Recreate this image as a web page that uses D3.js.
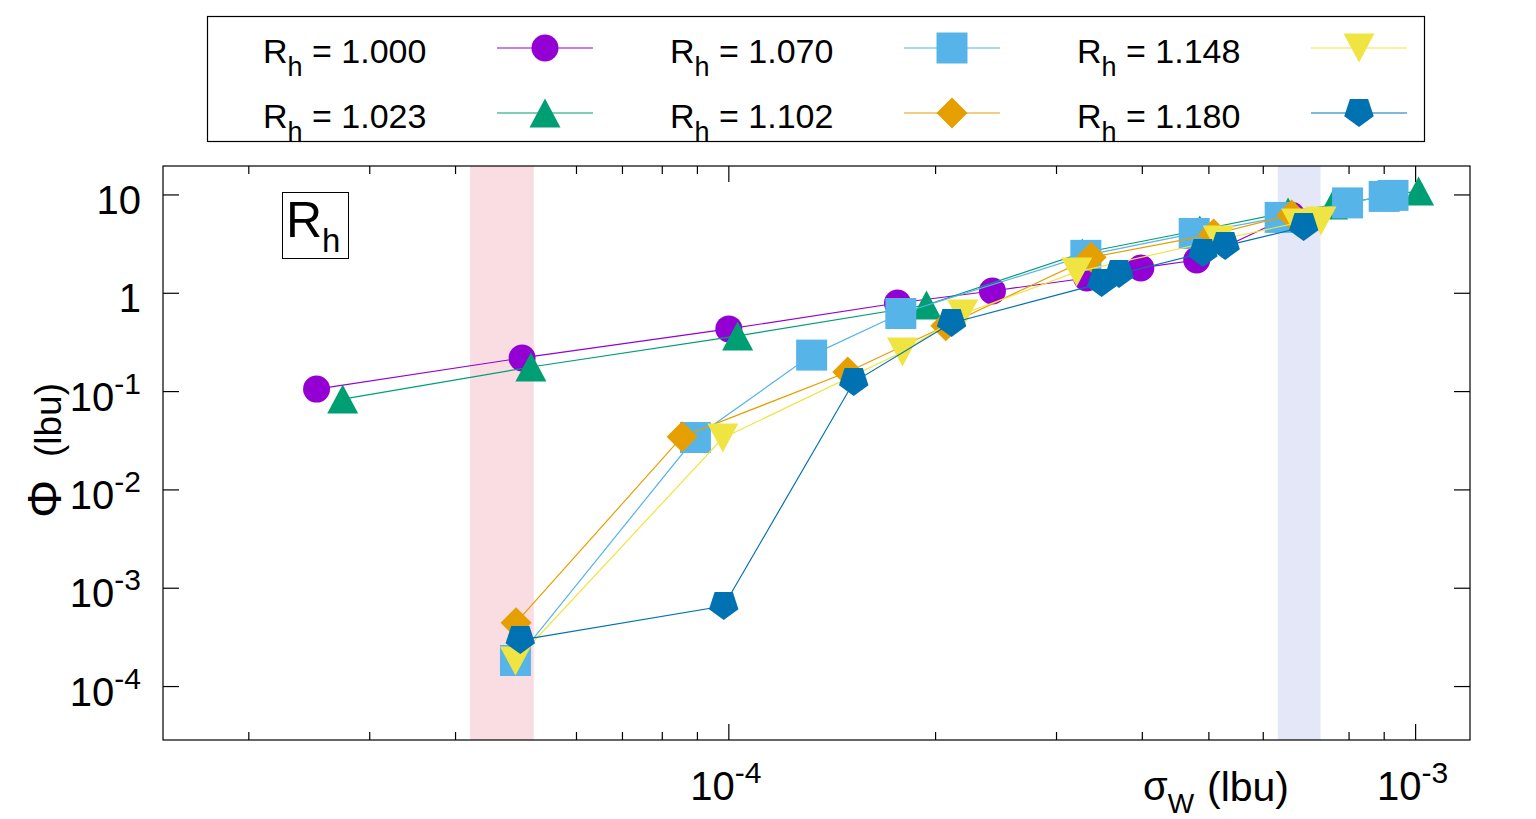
<!DOCTYPE html>
<html><head><meta charset="utf-8">
<script src="https://cdn.jsdelivr.net/npm/d3@7/dist/d3.min.js"></script>
<style>
body{margin:0;background:#fff}
svg{display:block}
text{font-family:"Liberation Sans",Arial,Helvetica,sans-serif;fill:#000}
</style>
</head><body>
<svg id="chart" width="1536" height="819"></svg>
<script>
// ---------------- data ----------------
const rhValues = ["1.000", "1.023", "1.070", "1.102", "1.148", "1.180"];
const seriesColors = ["#9400d3", "#009e73", "#56b4e9", "#e69f00", "#f0e442", "#0072b2"];
const seriesShapes = ["circle", "triangleUp", "square", "diamond", "triangleDown", "pentagon"];

const sigma_1000 = [2.51e-5, 5.0e-5, 1.0e-4, 1.76e-4, 2.42e-4, 3.32e-4, 3.98e-4, 4.80e-4, 6.6e-4];
const phi_1000   = [0.106, 0.22, 0.434, 0.796, 1.055, 1.43, 1.81, 2.18, 6.2];

const sigma_1023 = [2.74e-5, 5.15e-5, 1.03e-4, 1.94e-4, 3.27e-4, 4.85e-4, 6.52e-4, 7.57e-4, 1.01e-3];
const phi_1023   = [0.084, 0.178, 0.368, 0.76, 2.57, 4.4, 6.7, 7.9, 11.0];

const sigma_1070 = [4.89e-5, 8.94e-5, 1.32e-4, 1.78e-4, 3.31e-4, 4.76e-4, 6.35e-4, 7.96e-4, 9.0e-4, 9.27e-4];
const phi_1070   = [1.84e-4, 0.0341, 0.235, 0.623, 2.43, 4.06, 5.91, 8.3, 9.66, 9.9];

const sigma_1102 = [4.9e-5, 8.55e-5, 1.49e-4, 2.07e-4, 3.37e-4, 5.08e-4, 6.6e-4];
const phi_1102   = [4.46e-4, 0.0348, 0.158, 0.468, 2.32, 4.0, 6.27];

const sigma_1148 = [4.89e-5, 9.8e-5, 1.79e-4, 2.19e-4, 3.21e-4, 5.16e-4, 6.71e-4, 7.28e-4];
const phi_1148   = [1.82e-4, 0.0337, 0.253, 0.616, 1.65, 3.48, 5.19, 5.44];

const sigma_1180 = [4.97e-5, 9.83e-5, 1.52e-4, 2.11e-4, 3.49e-4, 3.70e-4, 4.9e-4, 5.28e-4, 6.87e-4];
const phi_1180   = [2.97e-4, 6.59e-4, 0.125, 0.499, 1.27, 1.57, 2.57, 3.03, 4.72];

const xMajorExps = [-4, -3];
const yMajorExps = [1, 0, -1, -2, -3, -4];
const pinkBand = [4.2e-5, 5.2e-5];
const blueBand = [6.3e-4, 7.27e-4];

// ---------------- layout ----------------
const L = 163, R = 1470, T = 166, B = 740;
const svg = d3.select("#chart");
const x = d3.scaleLog().domain([1.5e-5, 1.2e-3]).range([L, R]);
const y = d3.scaleLog().domain([2.86e-5, 19.7]).range([B, T]);

const sigmas = [sigma_1000, sigma_1023, sigma_1070, sigma_1102, sigma_1148, sigma_1180];
const phis = [phi_1000, phi_1023, phi_1070, phi_1102, phi_1148, phi_1180];
const series = rhValues.map((rh, i) => ({
  rh, color: seriesColors[i], shape: seriesShapes[i],
  pts: sigmas[i].map((s, j) => ({s, p: phis[i][j]}))
}));

// marker paths
function shapePath(shape) {
  const h = 15.5;
  switch (shape) {
    case "square": return `M${-h},${-h}H${h}V${h}H${-h}Z`;
    case "triangleUp": return `M0,-14.5L15.5,14.5L-15.5,14.5Z`;
    case "triangleDown": return `M-15.5,-14.5L15.5,-14.5L0,14.5Z`;
    case "diamond": return `M0,-15.5L15.5,0L0,15.5L-15.5,0Z`;
    case "pentagon": {
      const r = 15.5, pts = [];
      for (let k = 0; k < 5; k++) {
        const a = (90 + 72 * k) * Math.PI / 180;
        pts.push([r * Math.cos(a), r * Math.sin(a) - 1.5]);
      }
      return "M" + pts.map(p => p[0].toFixed(2) + "," + p[1].toFixed(2)).join("L") + "Z";
    }
  }
}
function drawMarker(g, shape, cx, cy, color) {
  if (shape === "circle") {
    g.append("circle").attr("cx", cx).attr("cy", cy).attr("r", 13.5).attr("fill", color);
  } else {
    g.append("path").attr("d", shapePath(shape)).attr("transform", `translate(${cx},${cy})`).attr("fill", color);
  }
}

// ---------------- ticks (under bands) ----------------
const tickG = svg.append("g").attr("stroke", "#000").attr("stroke-width", 1.2);
const xMinor = [];
for (let e = -5; e <= -4; e++) for (let m = 2; m <= 9; m++) xMinor.push(m * Math.pow(10, e));
xMinor.filter(v => v >= x.domain()[0] && v <= x.domain()[1]).forEach(v => {
  const px = x(v);
  tickG.append("line").attr("x1", px).attr("x2", px).attr("y1", B).attr("y2", B - 8);
  tickG.append("line").attr("x1", px).attr("x2", px).attr("y1", T).attr("y2", T + 8);
});
xMajorExps.forEach(e => {
  const px = x(Math.pow(10, e));
  tickG.append("line").attr("x1", px).attr("x2", px).attr("y1", B).attr("y2", B - 16);
  tickG.append("line").attr("x1", px).attr("x2", px).attr("y1", T).attr("y2", T + 16);
});
yMajorExps.forEach(e => {
  const py = y(Math.pow(10, e));
  tickG.append("line").attr("x1", L).attr("x2", L + 16).attr("y1", py).attr("y2", py);
  tickG.append("line").attr("x1", R).attr("x2", R - 16).attr("y1", py).attr("y2", py);
});

// ---------------- bands ----------------
svg.append("rect").attr("x", x(pinkBand[0])).attr("width", x(pinkBand[1]) - x(pinkBand[0]))
  .attr("y", T).attr("height", B - T).attr("fill", "#fadce3");
svg.append("rect").attr("x", x(blueBand[0])).attr("width", x(blueBand[1]) - x(blueBand[0]))
  .attr("y", T).attr("height", B - T).attr("fill", "#e3e7f8");

// ---------------- border ----------------
svg.append("rect").attr("x", L).attr("y", T).attr("width", R - L).attr("height", B - T)
  .attr("fill", "none").attr("stroke", "#000").attr("stroke-width", 1.2);

// ---------------- tick labels ----------------
const tickFont = 40, supFont = 30;
yMajorExps.forEach(e => {
  const py = y(Math.pow(10, e)) + 19;
  const t = svg.append("text").attr("x", 141).attr("y", py).attr("text-anchor", "end")
    .attr("font-size", tickFont);
  if (e === 1) t.text("10");
  else if (e === 0) t.text("1");
  else {
    t.append("tspan").text("10");
    t.append("tspan").attr("dy", -17).attr("font-size", supFont).text(String(e));
  }
});
xMajorExps.forEach(e => {
  const t = svg.append("text").attr("x", x(Math.pow(10, e)) - 3).attr("y", 800)
    .attr("text-anchor", "middle").attr("font-size", tickFont);
  t.append("tspan").text("10");
  t.append("tspan").attr("dy", -17).attr("font-size", supFont).text(String(e));
});

// axis titles
const xt = svg.append("text").attr("x", 1143).attr("y", 800).attr("font-size", 40);
xt.append("tspan").text("σ");
xt.append("tspan").attr("font-size", 28).attr("dy", 13).text("W");
svg.append("text").attr("x", 1207).attr("y", 801).attr("font-size", 41).text("(lbu)");

svg.append("text").attr("transform", "translate(61,518) rotate(-90)").attr("font-size", 48).text("Φ");
svg.append("text").attr("transform", "translate(61,457) rotate(-90)").attr("font-size", 37).text("(lbu)");

// inset label
svg.append("rect").attr("x", 282.5).attr("y", 192.5).attr("width", 66).attr("height", 66)
  .attr("fill", "#fff").attr("stroke", "#000").attr("stroke-width", 1);
const it = svg.append("text").attr("x", 286).attr("y", 237).attr("font-size", 50);
it.append("tspan").text("R");
it.append("tspan").attr("font-size", 33).attr("dy", 15).text("h");

// ---------------- data ----------------
const line = d3.line().x(d => x(d.s)).y(d => y(d.p));
series.forEach(sr => {
  const g = svg.append("g");
  g.append("path").datum(sr.pts).attr("d", line).attr("fill", "none")
    .attr("stroke", sr.color).attr("stroke-width", 1.2);
  sr.pts.forEach(d => drawMarker(g, sr.shape, x(d.s), y(d.p), sr.color));
});

// ---------------- legend ----------------
svg.append("rect").attr("x", 207.5).attr("y", 16.5).attr("width", 1217).attr("height", 125)
  .attr("fill", "#fff").attr("stroke", "#000").attr("stroke-width", 1.2);
const colX = [263, 670, 1077];
const rowY = [48, 113];
series.forEach((sr, i) => {
  const col = Math.floor(i / 2), row = i % 2;
  const tx = colX[col], cy = rowY[row];
  const t = svg.append("text").attr("x", tx).attr("y", cy + 15).attr("font-size", 34);
  t.append("tspan").text("R");
  t.append("tspan").attr("font-size", 27).attr("dy", 13).text("h");
  t.append("tspan").attr("dy", -13).text(" = " + sr.rh);
  const lx0 = tx + 234, lx1 = tx + 330;
  svg.append("line").attr("x1", lx0).attr("x2", lx1).attr("y1", cy).attr("y2", cy)
    .attr("stroke", sr.color).attr("stroke-width", 1.2);
  drawMarker(svg, sr.shape, (lx0 + lx1) / 2, cy, sr.color);
});
</script>
</body></html>
